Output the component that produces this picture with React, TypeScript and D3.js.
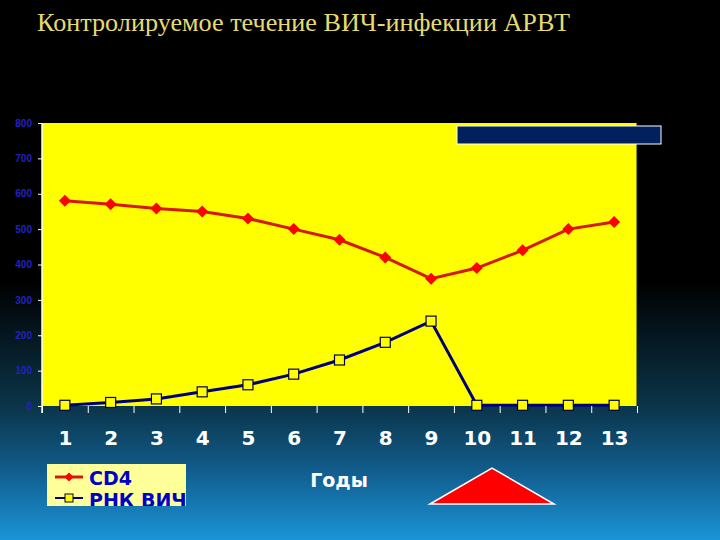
import { useRef, useEffect } from "react";
import * as d3 from "d3";

const years = [1, 2, 3, 4, 5, 6, 7, 8, 9, 10, 11, 12, 13];
const cd4 = [580, 570, 558, 550, 530, 500, 470, 420, 360, 390, 440, 500, 520];
const rnaHiv = [2, 10, 20, 40, 60, 90, 130, 180, 240, 2, 2, 2, 2];
const yTicks = [0, 100, 200, 300, 400, 500, 600, 700, 800];
const seriesNames = ["CD4", "РНК ВИЧ"];

const W = 720;
const H = 540;
const plot = { left: 42, right: 637, top: 123, bottom: 406 };

export default function App() {
  const axesRef = useRef<SVGGElement | null>(null);

  const x = d3.scaleLinear().domain([0.5, 13.5]).range([plot.left, plot.right]);
  const y = d3.scaleLinear().domain([0, 800]).range([plot.bottom, plot.top]);

  const line = d3
    .line<number>()
    .x((_, i) => x(years[i]))
    .y((d) => y(d));

  // square turned 45deg, like the office-chart diamond
  const diamond = d3.symbol(d3.symbolSquare, 72)();
  const smallDiamond = d3.symbol(d3.symbolSquare, 40)();

  useEffect(() => {
    if (!axesRef.current) return;
    const g = d3.select(axesRef.current);
    g.selectAll("*").remove();

    const yAxis = g
      .append("g")
      .attr("transform", `translate(${plot.left},0)`)
      .call(d3.axisLeft(y).tickValues(yTicks).tickSize(4).tickPadding(6));
    yAxis.select(".domain").remove();
    yAxis.selectAll("line").attr("stroke", "#fff").attr("stroke-width", 1);
    yAxis
      .selectAll("text")
      .attr("fill", "#2222c4")
      .style("font", "bold 10px 'Liberation Sans', Arial, sans-serif");
    g.append("line")
      .attr("x1", plot.left)
      .attr("x2", plot.left)
      .attr("y1", plot.top)
      .attr("y2", plot.bottom + 7)
      .attr("stroke", "#fff")
      .attr("stroke-width", 1.5);

    const xTickMarks = g
      .append("g")
      .attr("transform", `translate(0,${plot.bottom})`)
      .call(
        d3
          .axisBottom(x)
          .tickValues(d3.range(0.5, 14, 1))
          .tickSize(7)
          .tickFormat(() => "")
      );
    xTickMarks.select(".domain").remove();
    xTickMarks.selectAll("line").attr("stroke", "#fff").attr("stroke-width", 1);

    const xLabels = g
      .append("g")
      .attr("transform", `translate(0,${plot.bottom})`)
      .call(d3.axisBottom(x).tickValues(years).tickSize(0).tickPadding(25).tickFormat(d3.format("d")));
    xLabels.select(".domain").remove();
    xLabels
      .selectAll("text")
      .attr("fill", "#fff")
      .style("font", "bold 20px 'DejaVu Sans', Verdana, sans-serif");
  }, []);

  return (
    <svg width={W} height={H} viewBox={`0 0 ${W} ${H}`} style={{ position: "absolute", left: 0, top: 0 }}>
      <defs>
        <linearGradient id="bg" x1="0" y1="0" x2="0" y2="1">
          <stop offset="0" stopColor="#000" />
          <stop offset="0.52" stopColor="#000" />
          <stop offset="0.75" stopColor="#0b3448" />
          <stop offset="0.87" stopColor="#115c8c" />
          <stop offset="1" stopColor="#1a94d8" />
        </linearGradient>
        <clipPath id="legendClip">
          <rect x={47} y={464} width={139} height={42} />
        </clipPath>
      </defs>
      <rect width={W} height={H} fill="url(#bg)" />

      <text
        x={37}
        y={31}
        fill="#e6dc6e"
        textLength={533}
        lengthAdjust="spacingAndGlyphs"
        style={{ font: "26px 'Liberation Serif', 'Times New Roman', serif" }}
      >
        Контролируемое течение ВИЧ-инфекции АРВТ
      </text>

      <rect
        x={plot.left}
        y={plot.top}
        width={plot.right - plot.left}
        height={plot.bottom - plot.top}
        fill="#ffff00"
      />
      <line x1={plot.right} x2={plot.right} y1={plot.top} y2={plot.bottom} stroke="#0a1a40" strokeWidth={1} />

      <rect x={457} y={126} width={204} height={18} fill="#03205e" stroke="#fff" strokeWidth={1} />

      {/* РНК ВИЧ */}
      <path d={line(rnaHiv) ?? ""} fill="none" stroke="#00007a" strokeWidth={3} />
      {rnaHiv.map((v, i) => (
        <rect
          key={`r${i}`}
          x={x(years[i]) - 5}
          y={y(v) - 5}
          width={10}
          height={10}
          fill="#ffff00"
          stroke="#00004a"
          strokeWidth={1.2}
        />
      ))}

      {/* CD4 */}
      <path d={line(cd4) ?? ""} fill="none" stroke="#d41a00" strokeWidth={3} />
      {cd4.map((v, i) => (
        <path
          key={`c${i}`}
          d={diamond ?? ""}
          transform={`translate(${x(years[i])},${y(v)}) rotate(45)`}
          fill="#ff0000"
        />
      ))}

      <g ref={axesRef} />

      {/* legend */}
      <rect x={47} y={464} width={139} height={42} fill="#ffff99" />
      <g clipPath="url(#legendClip)">
        <line x1={55} x2={83} y1={477} y2={477} stroke="#d41a00" strokeWidth={3} />
        <path d={smallDiamond ?? ""} transform="translate(69,477) rotate(45)" fill="#ff0000" />
        <line x1={55} x2={83} y1={498} y2={498} stroke="#00007a" strokeWidth={2} />
        <rect x={65} y={494} width={8} height={8} fill="#ffff00" stroke="#00004a" strokeWidth={1} />
        <text x={89} y={485} fill="#0000c8" style={{ font: "bold 19px 'DejaVu Sans', Verdana, sans-serif" }}>
          {seriesNames[0]}
        </text>
        <text x={89} y={507} fill="#0000c8" style={{ font: "bold 19px 'DejaVu Sans', Verdana, sans-serif" }}>
          {seriesNames[1]}
        </text>
      </g>

      <text
        x={339}
        y={487}
        textAnchor="middle"
        fill="#fff"
        style={{ font: "bold 19px 'DejaVu Sans', Verdana, sans-serif" }}
      >
        Годы
      </text>

      <polygon points="430,504 492,468 554,504" fill="#ff0000" stroke="#fff" strokeWidth={1.5} />
    </svg>
  );
}
